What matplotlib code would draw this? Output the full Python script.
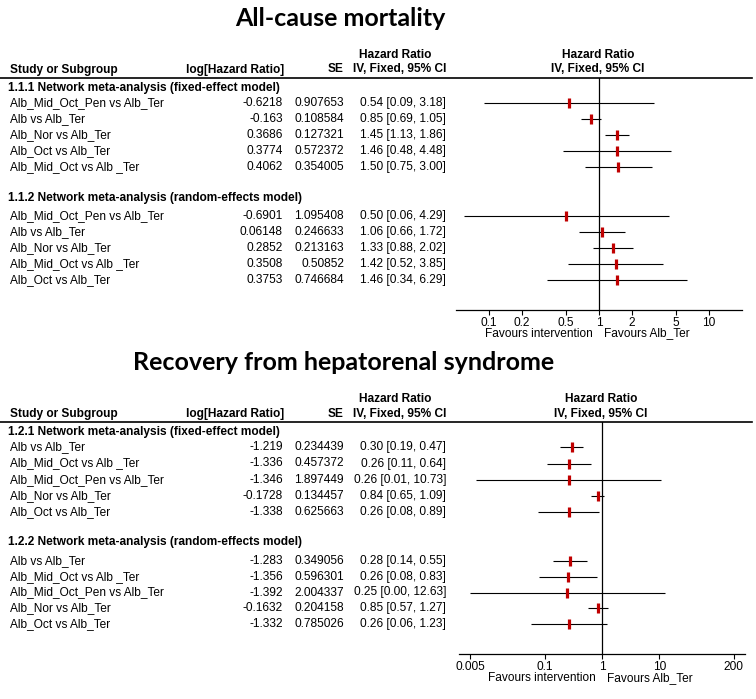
import numpy as np
import matplotlib
matplotlib.use("Agg")
import matplotlib.pyplot as plt
from matplotlib.lines import Line2D
from matplotlib.ticker import NullLocator, FixedLocator, FixedFormatter

W, H = 756, 699

# ---- All-cause mortality ----
mort_fixed_names = ["Alb_Mid_Oct_Pen vs Alb_Ter", "Alb vs Alb_Ter", "Alb_Nor vs Alb_Ter",
                    "Alb_Oct vs Alb_Ter", "Alb_Mid_Oct vs Alb _Ter"]
mort_fixed_log = ["-0.6218", "-0.163", "0.3686", "0.3774", "0.4062"]
mort_fixed_se = ["0.907653", "0.108584", "0.127321", "0.572372", "0.354005"]
mort_fixed_ci = ["0.54 [0.09, 3.18]", "0.85 [0.69, 1.05]", "1.45 [1.13, 1.86]",
                 "1.46 [0.48, 4.48]", "1.50 [0.75, 3.00]"]

mort_random_names = ["Alb_Mid_Oct_Pen vs Alb_Ter", "Alb vs Alb_Ter", "Alb_Nor vs Alb_Ter",
                     "Alb_Mid_Oct vs Alb _Ter", "Alb_Oct vs Alb_Ter"]
mort_random_log = ["-0.6901", "0.06148", "0.2852", "0.3508", "0.3753"]
mort_random_se = ["1.095408", "0.246633", "0.213163", "0.50852", "0.746684"]
mort_random_ci = ["0.50 [0.06, 4.29]", "1.06 [0.66, 1.72]", "1.33 [0.88, 2.02]",
                  "1.42 [0.52, 3.85]", "1.46 [0.34, 6.29]"]

# ---- Recovery from hepatorenal syndrome ----
hrs_fixed_names = ["Alb vs Alb_Ter", "Alb_Mid_Oct vs Alb _Ter", "Alb_Mid_Oct_Pen vs Alb_Ter",
                   "Alb_Nor vs Alb_Ter", "Alb_Oct vs Alb_Ter"]
hrs_fixed_log = ["-1.219", "-1.336", "-1.346", "-0.1728", "-1.338"]
hrs_fixed_se = ["0.234439", "0.457372", "1.897449", "0.134457", "0.625663"]
hrs_fixed_ci = ["0.30 [0.19, 0.47]", "0.26 [0.11, 0.64]", "0.26 [0.01, 10.73]",
                "0.84 [0.65, 1.09]", "0.26 [0.08, 0.89]"]

hrs_random_names = hrs_fixed_names
hrs_random_log = ["-1.283", "-1.356", "-1.392", "-0.1632", "-1.332"]
hrs_random_se = ["0.349056", "0.596301", "2.004337", "0.204158", "0.785026"]
hrs_random_ci = ["0.28 [0.14, 0.55]", "0.26 [0.08, 0.83]", "0.25 [0.00, 12.63]",
                 "0.85 [0.57, 1.27]", "0.26 [0.06, 1.23]"]

mort_ticks = [0.1, 0.2, 0.5, 1, 2, 5, 10]
mort_ticklabels = ["0.1", "0.2", "0.5", "1", "2", "5", "10"]
hrs_ticks = [0.005, 0.1, 1, 10, 200]
hrs_ticklabels = ["0.005", "0.1", "1", "10", "200"]

FONT = "Liberation Sans"
RED = "#c00000"

fig = plt.figure(figsize=(W / 100, H / 100), dpi=100)


def fx(x):
    return x / W


def fy(y):
    return 1 - y / H


def txt(x, y, s, ha="left", bold=False, size=8.6, family=FONT):
    fig.text(fx(x), fy(y), s, ha=ha, va="center", fontsize=size,
             fontweight="bold" if bold else "normal", family=family, color="black")


def panel(line_y, title, title_x, groups, lim, ticks, ticklabels, ax_left):
    ax_right = ax_left + 286
    center = ax_left + 142
    axis_y = line_y + 232

    txt(title_x, line_y - 59, title, ha="center", size=18, bold=True, family="Lato")
    txt(395, line_y - 23, "Hazard Ratio", ha="center", bold=True)
    txt(center, line_y - 23, "Hazard Ratio", ha="center", bold=True)
    txt(10, line_y - 8, "Study or Subgroup", bold=True)
    txt(284, line_y - 8, "log[Hazard Ratio]", ha="right", bold=True)
    txt(343, line_y - 8, "SE", ha="right", bold=True)
    txt(446, line_y - 8, "IV, Fixed, 95% CI", ha="right", bold=True)
    txt(center, line_y - 8, "IV, Fixed, 95% CI", ha="center", bold=True)
    fig.add_artist(Line2D([0, fx(752)], [fy(line_y), fy(line_y)], color="black", lw=1.2))

    ax = fig.add_axes([fx(ax_left), fy(axis_y), fx(ax_right) - fx(ax_left),
                       fy(line_y) - fy(axis_y)])
    ax.set_xscale("log")
    ax.set_xlim(lim)
    ax.set_ylim(axis_y, line_y)
    ax.patch.set_alpha(0)
    for s in ["top", "left", "right"]:
        ax.spines[s].set_visible(False)
    ax.spines["bottom"].set_linewidth(0.9)
    ax.yaxis.set_visible(False)
    ax.xaxis.set_major_locator(FixedLocator(ticks))
    ax.xaxis.set_major_formatter(FixedFormatter(ticklabels))
    ax.xaxis.set_minor_locator(NullLocator())
    ax.tick_params(axis="x", length=3.6, width=0.8, pad=1.5, labelsize=8.6)
    for lab in ax.get_xticklabels():
        lab.set_family(FONT)
    ax.axvline(1, color="black", lw=0.9)

    starts = [(line_y + 10.5, line_y + 25.4, 16.1), (line_y + 120.5, line_y + 138.7, 15.9)]
    for (hdr, names, logs, ses, cis), (hy, ry, step) in zip(groups, starts):
        txt(8, hy, hdr, bold=True)
        for i, (n, lg, se, ci) in enumerate(zip(names, logs, ses, cis)):
            y = ry + i * step
            txt(10, y, n)
            txt(283, y, lg, ha="right")
            txt(344, y, se, ha="right")
            txt(446, y, ci, ha="right")
            b, s = float(lg), float(se)
            lo, hi = np.exp(b - 1.96 * s), np.exp(b + 1.96 * s)
            ax.plot([max(lo, lim[0]), min(hi, lim[1])], [y, y], color="black", lw=0.8,
                    solid_capstyle="butt")
            ax.plot([np.exp(b)], [y], marker="|", ms=7.5, mew=2.3, color=RED)

    txt(center - 5, axis_y + 24, "Favours intervention", ha="right")
    txt(center + 6, axis_y + 24, "Favours Alb_Ter", ha="left")


panel(77.5, "All-cause mortality", 340,
      [("1.1.1 Network meta-analysis (fixed-effect model)", mort_fixed_names,
        mort_fixed_log, mort_fixed_se, mort_fixed_ci),
       ("1.1.2 Network meta-analysis (random-effects model)", mort_random_names,
        mort_random_log, mort_random_se, mort_random_ci)],
      (0.05, 20), mort_ticks, mort_ticklabels, 456)

panel(422, "Recovery from hepatorenal syndrome", 344,
      [("1.2.1 Network meta-analysis (fixed-effect model)", hrs_fixed_names,
        hrs_fixed_log, hrs_fixed_se, hrs_fixed_ci),
       ("1.2.2 Network meta-analysis (random-effects model)", hrs_random_names,
        hrs_random_log, hrs_random_se, hrs_random_ci)],
      (10 ** -2.5, 10 ** 2.5), hrs_ticks, hrs_ticklabels, 459)

fig.savefig("out.png", dpi=100)
